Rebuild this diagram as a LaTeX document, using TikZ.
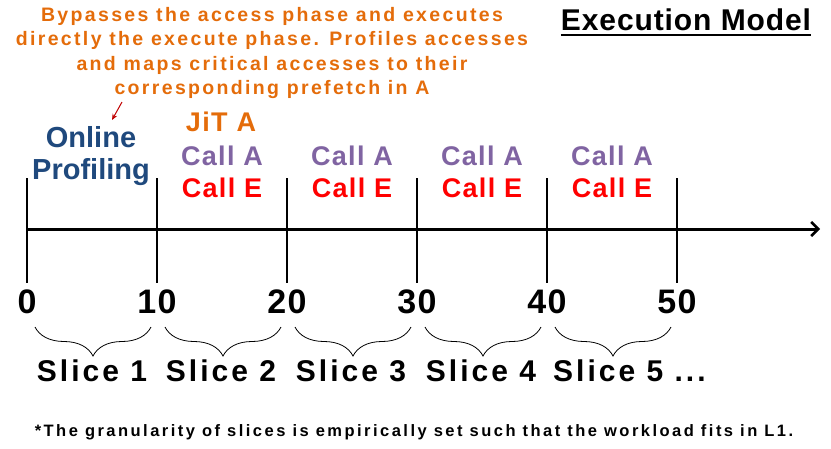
\documentclass[tikz,border=0pt]{standalone}
\usepackage{fontspec}
\setmainfont{Liberation Sans}
\usetikzlibrary{arrows.meta,decorations.pathreplacing}
\definecolor{orangeT}{HTML}{E46C0A}
\definecolor{purpleT}{HTML}{8064A2}
\definecolor{blueT}{HTML}{1F497D}
\definecolor{redT}{HTML}{FF0000}
\definecolor{darkredT}{HTML}{C00000}
\newcommand{\fs}[2]{\fontsize{#1}{#2}\selectfont\bfseries}
\tikzset{
  lbl/.style={inner sep=0pt, font=\fs{27}{30}\addfontfeatures{LetterSpace=5}},
  calla/.style={lbl, text=purpleT},
  calle/.style={lbl, text=redT},
  num/.style={inner sep=0pt, font=\fs{34}{36}\addfontfeatures{LetterSpace=4}},
  slice/.style={inner sep=0pt, font=\fs{30}{32}\addfontfeatures{LetterSpace=10}},
  tick/.style={line width=1.4pt},
  bracestyle/.style={decorate, decoration={brace, amplitude=29pt}, line width=0.8pt},
}
\begin{document}
\begin{tikzpicture}[x=1pt,y=-1pt]
\useasboundingbox (0,0) rectangle (831,448);
% title
\node[inner sep=0pt, font=\fs{30}{32}\addfontfeatures{LetterSpace=3}] (title) at (686,20) {Execution Model};
\draw[line width=2pt] ([yshift=-4pt]title.south west) -- ([yshift=-4pt]title.south east);
% orange explanation
\node[inner sep=0pt, align=center, text=orangeT, font=\fs{19.5}{24.5}\addfontfeatures{LetterSpace=12}] (expl) at (272,53)
  {Bypasses the access phase and executes\\directly the execute phase. Profiles accesses\\and maps critical accesses to their\\corresponding prefetch in A};
\coordinate (arrS) at (122,102);
\coordinate (arrE) at (112,120);
\draw[-{Stealth[length=6pt,width=5pt]}, darkredT, line width=1pt] (arrS) -- (arrE);
% online profiling
\node[inner sep=0pt, align=center, text=blueT, font=\fs{29}{32}] (online) at (91,156) {Online\\Profiling};
% JiT
\node[lbl, text=orangeT] (jit) at (221,122) {JiT A};
% axis
\coordinate (axS) at (27,229);
\coordinate (axE) at (820,229);
\draw[line width=3pt, -{Straight Barb[length=7pt,width=14pt,line width=2.5pt]}] (axS) -- (axE);
% ticks and numbers
\foreach \i/\x/\t in {0/27/0,1/157/10,2/287/20,3/417/30,4/547/40,5/677/50}{
  \coordinate (t\i top) at (\x,178);
  \coordinate (t\i bot) at (\x,283);
  \draw[tick] (t\i top) -- (t\i bot);
  \node[num] (n\i) at (\x,302) {\t};
}
% calls
\foreach \i/\x in {1/222,2/352,3/482,4/612}{
  \node[calla] (ca\i) at (\x,156) {Call A};
  \node[calle] (ce\i) at (\x,188) {Call E};
}
% braces and slices
\foreach \i/\x in {1/93,2/223,3/353,4/483,5/613}{
  \coordinate (bl\i) at (\x-58,327);
  \coordinate (br\i) at (\x+58,327);
  \draw[bracestyle] (br\i) -- (bl\i);
}
\foreach \i/\x in {1/92,2/221,3/351,4/481}{
  \node[slice] (s\i) at (\x,371) {Slice \i};
}
\node[slice, anchor=west] (s5) at (553,371) {Slice 5 ...};
% footnote
\node[inner sep=0pt, font=\fs{16.5}{18}\addfontfeatures{LetterSpace=15}] (foot) at (414,432)
  {*The granularity of slices is empirically set such that the workload fits in L1.};
\end{tikzpicture}
\end{document}
